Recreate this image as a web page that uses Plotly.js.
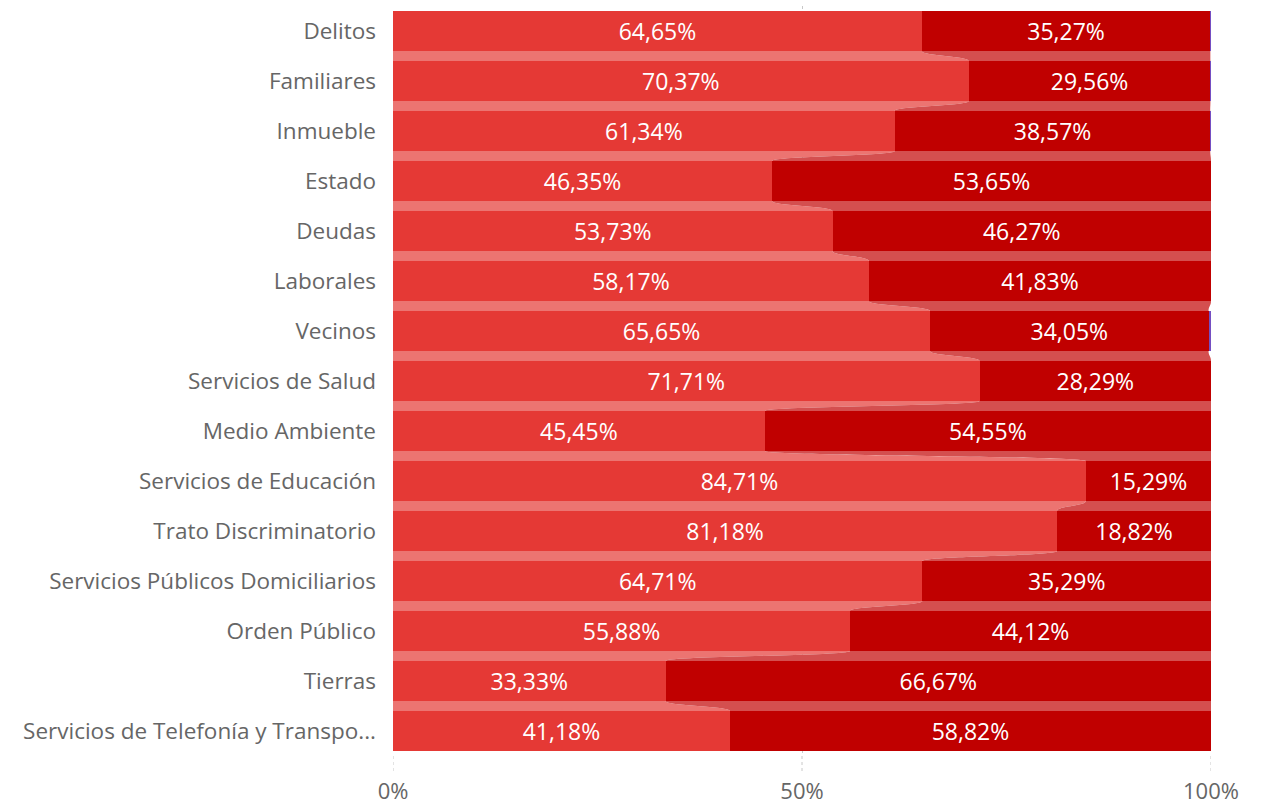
<!DOCTYPE html>
<html>
<head>
<meta charset="utf-8">
<script src="https://cdn.plot.ly/plotly-3.0.1.min.js"></script>
<style>html,body{margin:0;padding:0;background:#fff;}#chart{width:1264px;height:805px;}</style>
</head>
<body>
<div id="chart"></div>
<script>
const categories = ["Delitos","Familiares","Inmueble","Estado","Deudas","Laborales","Vecinos","Servicios de Salud","Medio Ambiente","Servicios de Educación","Trato Discriminatorio","Servicios Públicos Domiciliarios","Orden Público","Tierras","Servicios de Telefonía y Transpo..."];
const serie1 = [64.65,70.37,61.34,46.35,53.73,58.17,65.65,71.71,45.45,84.71,81.18,64.71,55.88,33.33,41.18];
const serie2 = [35.27,29.56,38.57,53.65,46.27,41.83,34.05,28.29,54.55,15.29,18.82,35.29,44.12,66.67,58.82];
const serie3 = [0.08,0.07,0.09,0,0,0,0.30,0,0,0,0,0,0,0,0];
const xTickVals = [0,50,100];
const xTickText = ["0%","50%","100%"];

const c1 = "#E53935", c2 = "#C00000", c3 = "#744EC2";
const r1 = "#EC7471", r2 = "#D44F4F";
const yIdx = categories.map((_, i) => i);
const fmt = v => v.toFixed(2).replace(".", ",") + "%";
const FONT = "Open Sans, Noto Sans, sans-serif";

const traces = [
  {type:"bar", orientation:"h", y:yIdx, x:serie1, width:0.8, marker:{color:c1},
   text:serie1.map(fmt), textposition:"inside", insidetextanchor:"middle", textangle:0,
   textfont:{color:"#fff", size:23, family:FONT}, hoverinfo:"skip", name:"A"},
  {type:"bar", orientation:"h", y:yIdx, x:serie2, width:0.8, marker:{color:c2},
   text:serie2.map(fmt), textposition:"inside", insidetextanchor:"middle", textangle:0,
   textfont:{color:"#fff", size:23, family:FONT}, hoverinfo:"skip", name:"B"},
  {type:"bar", orientation:"h", y:yIdx, x:serie3, width:0.8, marker:{color:c3},
   textposition:"none", hoverinfo:"skip", name:"C"}
];

const shapes = [];
for (let i = 0; i < categories.length - 1; i++) {
  const yA = i + 0.4, yB = i + 0.6, ym = i + 0.5;
  const a = serie1[i], b = serie1[i+1];
  const c = serie1[i] + serie2[i], d = serie1[i+1] + serie2[i+1];
  shapes.push({type:"path", xref:"x", yref:"y", layer:"between", line:{width:0},
    fillcolor:r1,
    path:`M 0,${yA} L ${a},${yA} C ${a},${ym} ${b},${ym} ${b},${yB} L 0,${yB} Z`});
  shapes.push({type:"path", xref:"x", yref:"y", layer:"between", line:{width:0},
    fillcolor:r2,
    path:`M ${a},${yA} L ${c},${yA} C ${c},${ym} ${d},${ym} ${d},${yB} L ${b},${yB} C ${b},${ym} ${a},${ym} ${a},${yA} Z`});
}
// dotted grid extension below the plot area
xTickVals.forEach(v => shapes.push({type:"line", xref:"x", yref:"paper", x0:v, x1:v, y0:0, y1:-0.022,
  layer:"below", line:{color:"#c8c8c8", width:1, dash:"dot"}}));

const layout = {
  width:1264, height:805,
  margin:{l:393, r:53, t:6, b:49},
  paper_bgcolor:"#fff", plot_bgcolor:"#fff",
  barmode:"stack", showlegend:false,
  font:{family:FONT, color:"#666", size:22},
  xaxis:{range:[0,100], tickvals:xTickVals, ticktext:xTickText, showgrid:true,
    gridcolor:"#c8c8c8", griddash:"dot", gridwidth:1, zeroline:false, showline:false,
    ticks:"", ticklabelstandoff:20, tickfont:{size:22, color:"#666"}, fixedrange:true},
  yaxis:{range:[14.5,-0.5], tickvals:yIdx, ticktext:categories, showgrid:false,
    zeroline:false, showline:false, ticks:"", ticklabelstandoff:16,
    tickfont:{size:22.5, color:"#666"}, fixedrange:true},
  shapes:shapes
};

Plotly.newPlot("chart", traces, layout, {displayModeBar:false, staticPlot:true});
</script>
</body>
</html>
